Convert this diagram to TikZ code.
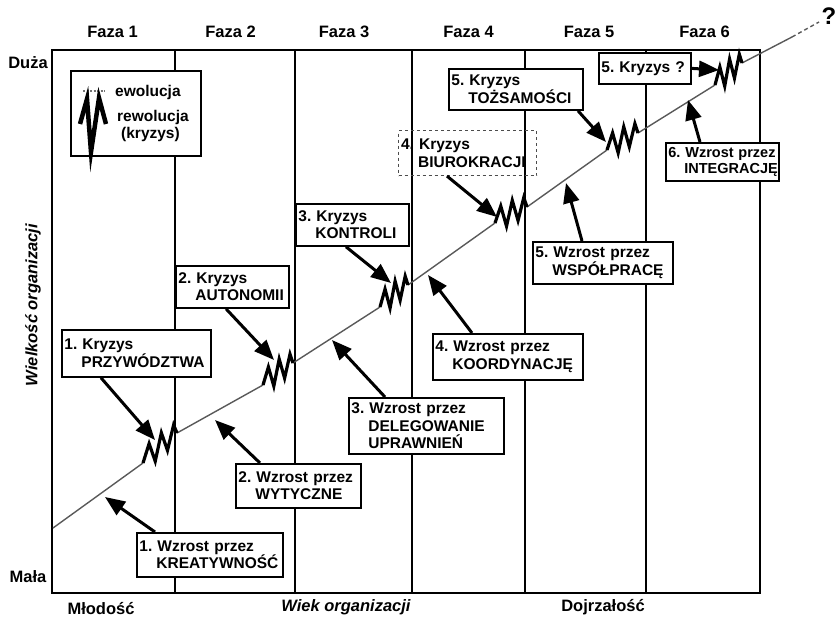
\documentclass[tikz,border=0pt]{standalone}
\usepackage{fontspec}
\setmainfont{Liberation Sans}
\usetikzlibrary{arrows.meta,calc}
\newcommand\zigzagat[2]{%
  \draw[zigline] (#1) -- ($(#1)!0.18!(#2)+(0,-14)$) -- ($(#1)!0.36!(#2)+(0,9)$)
   -- ($(#1)!0.54!(#2)+(0,-14)$) -- ($(#1)!0.72!(#2)+(0,9)$)
   -- ($(#1)!0.9!(#2)+(0,-11)$) -- (#2);}
\begin{document}
\frenchspacing
\begin{tikzpicture}[x=1pt,y=-1pt,
  frm/.style={line width=1.9pt},
  bx/.style={draw,line width=1.8pt,fill=white,anchor=north west,align=left,
     inner xsep=2.5pt,inner ysep=1pt,font=\fontsize{15.5}{17.5}\selectfont\bfseries},
  arr/.style={line width=3pt,-{Triangle[length=20pt,width=16pt]}},
  zigline/.style={line width=3.2pt,line join=miter,miter limit=10},
  evo/.style={line width=1.4pt,black!65},
  faza/.style={font=\fontsize{16.5}{18}\selectfont\bfseries},
  axl/.style={font=\fontsize{16.5}{20}\selectfont\bfseries}
]
\useasboundingbox (0,0) rectangle (835,623);
% frame and phase lines
\draw[frm] (52,50) rectangle (760,593);
\foreach \x in {175,295,412,525,646} \draw[frm] (\x,50) -- (\x,593);
% labels
\node[faza] (f1) at (112.5,32) {Faza 1};
\node[faza] (f2) at (230.5,32) {Faza 2};
\node[faza] (f3) at (344,32) {Faza 3};
\node[faza] (f4) at (468.5,32) {Faza 4};
\node[faza] (f5) at (589,32) {Faza 5};
\node[faza] (f6) at (704.5,32) {Faza 6};
\node[faza] (duza) at (28,63) {Duża};
\node[faza] (mala) at (28,577) {Mała};
\node[axl] (mlod) at (101,609) {Młodość};
\node[axl] (wiek) at (346,607) {\itshape Wiek organizacji};
\node[axl] (dojrz) at (603,607) {Dojrzałość};
\node[axl,rotate=90] (wielk) at (33,305) {\itshape Wielkość organizacji};
\node (q) at (829,16) {\fontsize{24}{24}\selectfont\bfseries ?};
% evolution line
\coordinate (l0) at (53,528);
\coordinate (z1a) at (143,463); \coordinate (z1b) at (177,433);
\coordinate (z2a) at (263,385); \coordinate (z2b) at (293,363);
\coordinate (z3a) at (380,307); \coordinate (z3b) at (408,285);
\coordinate (z4a) at (495,223); \coordinate (z4b) at (527,207);
\coordinate (z5a) at (607,150); \coordinate (z5b) at (638,133);
\coordinate (z6a) at (715,85); \coordinate (z6b) at (742,63);
\coordinate (l1) at (792,37); \coordinate (l2) at (819,22);
\draw[evo] (l0) -- (z1a) (z1b) -- (z2a) (z2b) -- (z3a) (z3b) -- (z4a)
  (z4b) -- (z5a) (z5b) -- (z6a) (z6b) -- (l1);
\draw[evo,dash pattern=on 4pt off 3pt] (l1) -- (l2);
% revolutions
\zigzagat{z1a}{z1b}
\zigzagat{z2a}{z2b}
\zigzagat{z3a}{z3b}
\zigzagat{z4a}{z4b}
\zigzagat{z5a}{z5b}
\zigzagat{z6a}{z6b}
% legend
\node[draw,line width=1.8pt,fill=white,anchor=north west,minimum width=130pt,minimum height=85pt] (lg) at (70,70) {};
\coordinate (ev1) at (83,91); \coordinate (ev2) at (105,91);
\draw[black!55,line width=1.2pt,dash pattern=on 2pt off 1.5pt] (ev1) -- (ev2);
\node[anchor=base west,font=\fontsize{15.5}{17}\selectfont\bfseries,inner sep=0pt] (lev) at (115,97) {ewolucja};
\node[anchor=base west,font=\fontsize{15.5}{17}\selectfont\bfseries,inner sep=0pt] (lrev) at (117,122) {rewolucja};
\node[anchor=base west,font=\fontsize{15.5}{17}\selectfont\bfseries,inner sep=0pt] (lkr) at (121,139) {(kryzys)};
\draw[line width=4.5pt,line join=miter,miter limit=20] (80,124) -- (87,99) -- (91,152) -- (99,98) -- (106,124);
% boxes
\node[bx,text width=144pt,minimum height=47pt] (k1) at (61,329) {\mbox{1. Kryzys}\\\mbox{\hspace*{1.1em}PRZYWÓDZTWA}};
\node[bx,text width=141pt,minimum height=44pt] (w1) at (136,532) {\mbox{1. Wzrost przez}\\\mbox{\hspace*{1.1em}KREATYWNOŚĆ}};
\node[bx,text width=108pt,minimum height=42pt] (k2) at (175,265) {\mbox{2. Kryzys}\\\mbox{\hspace*{1.1em}AUTONOMII}};
\node[bx,text width=120pt,minimum height=44pt] (w2) at (235,463) {\mbox{2. Wzrost przez}\\\mbox{\hspace*{1.1em}WYTYCZNE}};
\node[bx,text width=108pt,minimum height=42pt] (k3) at (295,203) {\mbox{3. Kryzys}\\\mbox{\hspace*{1.1em}KONTROLI}};
\node[bx,text width=150pt,minimum height=56pt] (w3) at (348,397) {\mbox{3. Wzrost przez}\\\mbox{\hspace*{1.1em}DELEGOWANIE}\\\mbox{\hspace*{1.1em}UPRAWNIEŃ}};
\node[bx,fill=none,draw=black!70,line width=1.1pt,dashed,text width=133pt,minimum height=45pt] (k4) at (398,130) {\mbox{4. Kryzys}\\\mbox{\hspace*{1.1em}BIUROKRACJI}};
\node[bx,text width=145pt,minimum height=46pt] (w4) at (432,333) {\mbox{4. Wzrost przez}\\\mbox{\hspace*{1.1em}KOORDYNACJĘ}};
\node[bx,text width=129pt,minimum height=41pt] (k5) at (448,68) {\mbox{5. Kryzys}\\\mbox{\hspace*{1.1em}TOŻSAMOŚCI}};
\node[bx,text width=135pt,minimum height=42pt] (w5) at (532,241) {\mbox{5. Wzrost przez}\\\mbox{\hspace*{1.1em}WSPÓŁPRACĘ}};
\node[bx,text width=87pt,minimum height=31pt] (k6) at (598,52) {\mbox{5. Kryzys ?}};
\node[bx,font=\fontsize{14.5}{16.5}\selectfont\bfseries,text width=108pt,minimum height=38pt] (w6) at (665,142) {\mbox{6. Wzrost przez}\\\mbox{\hspace*{1.1em}INTEGRACJĘ}};
% arrow tips
\coordinate (t1) at (155,440);
\coordinate (t2) at (105,497);
\coordinate (t3) at (274,360);
\coordinate (t4) at (215,420);
\coordinate (t5) at (391,283);
\coordinate (t6) at (332,340);
\coordinate (t7) at (428,275);
\coordinate (t8) at (497,217);
\coordinate (t9) at (606,142);
\coordinate (t10) at (566,183);
\coordinate (t11) at (688,100);
\coordinate (t12) at (719,70);
\draw[arr] ([xshift=40pt]k1.south west) -- (t1);
\draw[arr] ([xshift=19pt]w1.north west) -- (t2);
\draw[arr] ([xshift=51pt]k2.south west) -- (t3);
\draw[arr] ([xshift=25pt]w2.north west) -- (t4);
\draw[arr] ([xshift=51pt]k3.south west) -- (t5);
\draw[arr] ([xshift=37pt]w3.north west) -- (t6);
\draw[arr] ([xshift=40pt]w4.north west) -- (t7);
\draw[arr] ([xshift=49pt]k4.south west) -- (t8);
\draw[arr] ([xshift=130pt]k5.south west) -- (t9);
\draw[arr] ([xshift=50pt]w5.north west) -- (t10);
\draw[arr] ([xshift=35pt]w6.north west) -- (t11);
\draw[arr] (k6.east) -- (t12);
\end{tikzpicture}
\end{document}
